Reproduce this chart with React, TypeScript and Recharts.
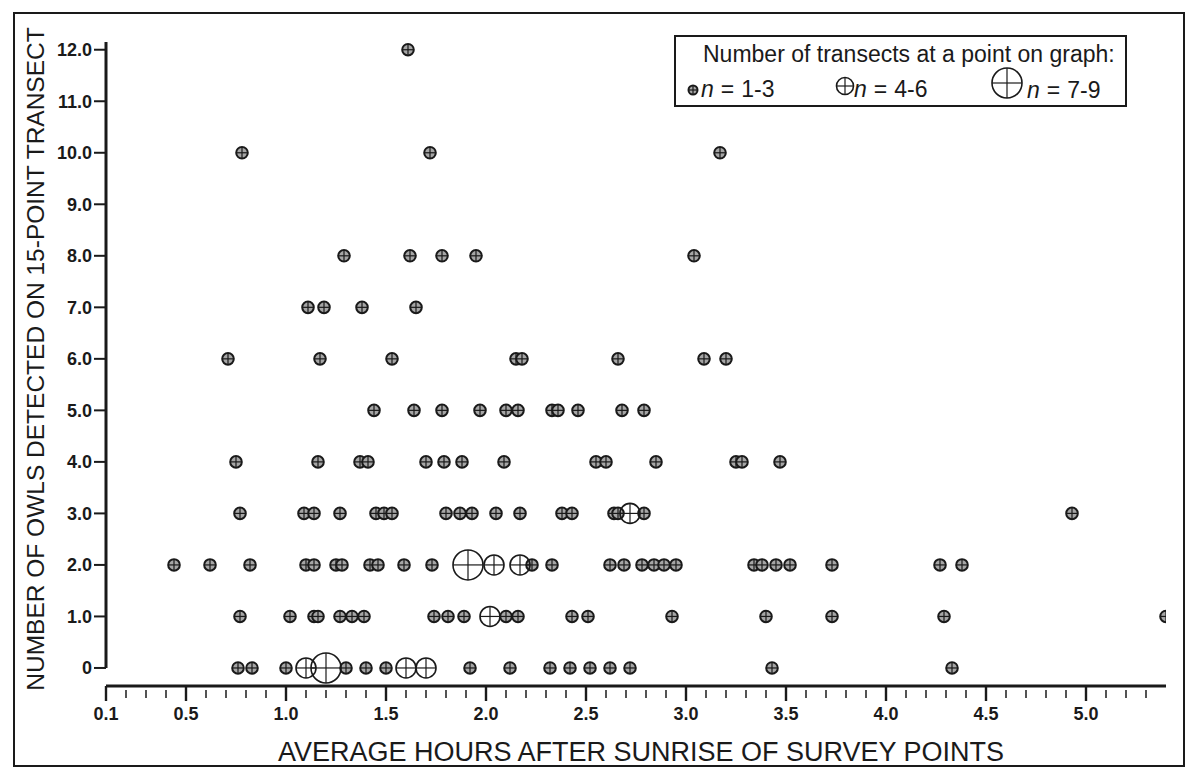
import { ScatterChart, Scatter, XAxis, YAxis, ReferenceLine, Legend, Label } from 'recharts';

// number of owls detected (y) -> index into the hour lists below
const owlCounts = [0, 1, 2, 3, 4, 5, 6, 7, 8, 9, 10, 11, 12];
const yTickLabels = ['0', '1.0', '2.0', '3.0', '4.0', '5.0', '6.0', '7.0', '8.0', '9.0', '10.0', '11.0', '12.0'];

const xMajorTicks = [0.1, 0.5, 1.0, 1.5, 2.0, 2.5, 3.0, 3.5, 4.0, 4.5, 5.0];
const xMajorLabels = ['0.1', '0.5', '1.0', '1.5', '2.0', '2.5', '3.0', '3.5', '4.0', '4.5', '5.0'];

// average hours after sunrise, one list per owl count, n = 1-3 transects
const smallHours: number[][] = [
  [0.76, 0.83, 1.0, 1.3, 1.4, 1.5, 1.92, 2.12, 2.32, 2.42, 2.52, 2.62, 2.72, 3.43, 4.33],
  [0.77, 1.02, 1.14, 1.16, 1.27, 1.33, 1.39, 1.74, 1.81, 1.89, 2.1, 2.16, 2.43, 2.51, 2.93, 3.4, 3.73, 4.29, 5.4],
  [0.44, 0.62, 0.82, 1.1, 1.14, 1.25, 1.28, 1.42, 1.46, 1.59, 1.73, 2.23, 2.33, 2.62, 2.69, 2.78, 2.84, 2.89, 2.95, 3.34, 3.38, 3.45, 3.52, 3.73, 4.27, 4.38],
  [0.77, 1.09, 1.14, 1.27, 1.45, 1.49, 1.53, 1.8, 1.87, 1.93, 2.05, 2.17, 2.38, 2.43, 2.64, 2.66, 2.79, 4.93],
  [0.75, 1.16, 1.37, 1.41, 1.7, 1.79, 1.88, 2.09, 2.55, 2.6, 2.85, 3.25, 3.28, 3.47],
  [1.44, 1.64, 1.78, 1.97, 2.1, 2.16, 2.33, 2.36, 2.46, 2.68, 2.79],
  [0.71, 1.17, 1.53, 2.15, 2.18, 2.66, 3.09, 3.2],
  [1.11, 1.19, 1.38, 1.65],
  [1.29, 1.62, 1.78, 1.95, 3.04],
  [],
  [0.78, 1.72, 3.17],
  [],
  [1.61],
];

// n = 4-6 transects
const mediumHours: number[][] = [[1.1, 1.6, 1.7], [2.02], [2.04, 2.17], [2.72]];

// n = 7-9 transects
const largeHours: number[][] = [[1.2], [], [1.91]];

const legendRanges = ['1-3', '4-6', '7-9'];

const toPoints = (rows: number[][]) =>
  rows.flatMap((hours, i) => hours.map((h) => ({ hours: h, owls: owlCounts[i] })));

const FONT = '"Liberation Sans", Arial, sans-serif';
const INK = '#1a1a1a';

function Marker({ cx, cy, r, filled }: { cx: number; cy: number; r: number; filled?: boolean }) {
  return (
    <g>
      <circle cx={cx} cy={cy} r={r} fill={filled ? '#a6a6a6' : 'none'} stroke={INK} strokeWidth={filled ? 2 : 1.6} />
      <line x1={cx - r} x2={cx + r} y1={cy} y2={cy} stroke={INK} strokeWidth={1.2} />
      <line x1={cx} x2={cx} y1={cy - r} y2={cy + r} stroke={INK} strokeWidth={1.2} />
    </g>
  );
}

function XTick(props: any) {
  const { x, y, payload } = props;
  const idx = xMajorTicks.findIndex((t) => Math.abs(t - payload.value) < 1e-6);
  if (idx < 0) {
    return <line x1={x} x2={x} y1={y + 4} y2={y + 12} stroke={INK} strokeWidth={1.5} />;
  }
  return (
    <g>
      <line x1={x} x2={x} y1={y} y2={y + 15} stroke={INK} strokeWidth={2.4} />
      <text x={x} y={y + 34} textAnchor="middle" fontSize={18} fontWeight="bold" fontFamily={FONT} fill={INK}>
        {xMajorLabels[idx]}
      </text>
    </g>
  );
}

function YTick(props: any) {
  const { x, y, payload } = props;
  return (
    <g>
      <line x1={x - 12} x2={x} y1={y} y2={y} stroke={INK} strokeWidth={2} />
      <text x={x - 14} y={y} dy="0.36em" textAnchor="end" fontSize={18} fontWeight="bold" fontFamily={FONT} fill={INK}>
        {yTickLabels[payload.value]}
      </text>
    </g>
  );
}

function RangeText({ x, y, range }: { x: number; y: number; range: string }) {
  return (
    <text x={x} y={y} fontSize={23} fontFamily={FONT} fill={INK}>
      <tspan fontStyle="italic">n</tspan>
      <tspan dx={7}>=</tspan>
      <tspan dx={7}>{range}</tspan>
    </text>
  );
}

function LegendBox() {
  return (
    <svg width={453} height={72} style={{ display: 'block' }}>
      <rect x={1} y={1} width={451} height={70} fill="#fff" stroke={INK} strokeWidth={2} />
      <text x={29} y={27} fontSize={23} fontFamily={FONT} fill={INK}>
        Number of transects at a point on graph:
      </text>
      <Marker cx={19} cy={55} r={4.5} filled />
      <RangeText x={27} y={62} range={legendRanges[0]} />
      <Marker cx={171} cy={51} r={8.5} />
      <RangeText x={180} y={62} range={legendRanges[1]} />
      <Marker cx={333} cy={48} r={15} />
      <RangeText x={353} y={63} range={legendRanges[2]} />
    </svg>
  );
}

const allXTicks = Array.from({ length: 53 }, (_, i) => Math.round((0.1 + i * 0.1) * 10) / 10);

export default function App() {
  return (
    <div style={{ position: 'absolute', left: 0, top: 0, width: 1186, height: 768, background: '#fff' }}>
      <ScatterChart width={1186} height={768} margin={{ top: 42, right: 20, bottom: 0, left: 0 }}>
        <XAxis
          type="number"
          dataKey="hours"
          domain={[0.1, 5.4]}
          ticks={allXTicks}
          interval={0}
          allowDataOverflow
          height={82}
          tickLine={false}
          tickSize={0}
          tickMargin={0}
          axisLine={{ stroke: INK, strokeWidth: 3 }}
          tick={<XTick />}
        >
          <Label
            content={({ viewBox }: any) => (
              <text x={viewBox.x + viewBox.width / 2 + 5} y={viewBox.y + 75} textAnchor="middle" fontSize={27} fontFamily={FONT} fill={INK}>
                AVERAGE HOURS AFTER SUNRISE OF SURVEY POINTS
              </text>
            )}
          />
        </XAxis>
        <YAxis
          type="number"
          dataKey="owls"
          domain={[-0.35, 12.15]}
          ticks={owlCounts}
          interval={0}
          allowDataOverflow
          width={106}
          axisLine={false}
          tickLine={false}
          tickSize={0}
          tickMargin={0}
          tick={<YTick />}
        >
          <Label
            content={() => (
              <text x={35} y={359} transform="rotate(-90, 35, 359)" textAnchor="middle" dy="0.36em" fontSize={24.5} fontFamily={FONT} fill={INK}>
                NUMBER OF OWLS DETECTED ON 15-POINT TRANSECT
              </text>
            )}
          />
        </YAxis>
        <ReferenceLine
          segment={[{ x: 0.1, y: 0 }, { x: 0.1, y: 12.15 }]}
          stroke={INK}
          strokeWidth={3}
          ifOverflow="visible"
        />
        <Legend
          layout="vertical"
          verticalAlign="middle"
          align="center"
          content={() => <LegendBox />}
          wrapperStyle={{ position: 'absolute', top: 35, left: 674, width: 453, height: 72 }}
        />
        <Scatter
          data={toPoints(smallHours)}
          isAnimationActive={false}
          shape={(p: any) => <Marker cx={p.cx} cy={p.cy} r={5.8} filled />}
        />
        <Scatter
          data={toPoints(mediumHours)}
          isAnimationActive={false}
          shape={(p: any) => <Marker cx={p.cx} cy={p.cy} r={10} />}
        />
        <Scatter
          data={toPoints(largeHours)}
          isAnimationActive={false}
          shape={(p: any) => <Marker cx={p.cx} cy={p.cy} r={15} />}
        />
      </ScatterChart>
      <div
        style={{
          position: 'absolute',
          left: 13,
          top: 12,
          width: 1172,
          height: 755,
          border: `2px solid ${INK}`,
          boxSizing: 'border-box',
          pointerEvents: 'none',
        }}
      />
    </div>
  );
}
